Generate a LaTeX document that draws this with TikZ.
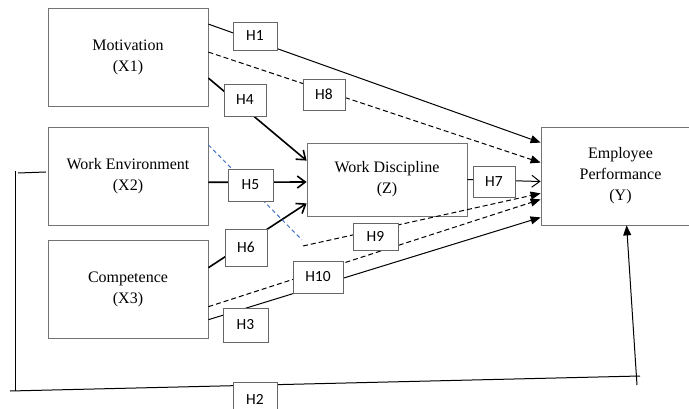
\documentclass[tikz,border=0pt]{standalone}
\usepackage{fontspec}
\setmainfont{Liberation Serif}
\newfontfamily\hypfont{Carlito}
\usepackage{tikz}
\usetikzlibrary{arrows.meta, positioning, calc}
\definecolor{linkblue}{RGB}{68,114,196}

\begin{document}
\begin{tikzpicture}[x=1pt, y=-1pt,
			block/.style={rectangle, draw=black!55, fill=white, line width=0.8pt,
				minimum width=160pt, minimum height=98pt, inner sep=0pt,
				align=center, font=\fontsize{16}{21}\selectfont},
			hyp/.style={rectangle, draw=black!60, fill=white, line width=0.8pt,
				minimum width=44pt, minimum height=31pt, inner sep=0pt,
				font=\hypfont\fontsize{15.5}{18}\selectfont},
			arr/.style={-{Triangle[length=10pt,width=8pt]}, line width=1pt},
			barb/.style={-{Straight Barb[length=8pt,width=12pt]}, line width=1.6pt},
			dsh/.style={arr, dash pattern=on 5pt off 3pt},
			]
			\useasboundingbox (0,0) rectangle (689,409);
			\clip (0,0) rectangle (689,409);
			
			% Blocks
			\node[block] (mot) at (128,57.5) {Motivation\\(X1)};
			\node[block, below=20pt of mot] (env) {Work Environment\\(X2)};
			\node[block, below=14pt of env] (comp) {Competence\\(X3)};
			\node[block, minimum height=73pt] (disc) at (387,179.5) {Work Discipline\\(Z)};
			\node[block, minimum width=159pt] (perf) at (620.5,176) {Employee\\Performance\\(Y)};
			
			% Arrows
			\draw[arr] ([yshift=-16pt]mot.north east) -- ([yshift=-16pt]perf.north west);
			\draw[dsh] ([yshift=-44pt]mot.north east) -- ([yshift=-36pt]perf.north west);
			\draw[barb] ([yshift=-70pt]mot.north east) -- ([yshift=-18pt]disc.north west);
			\draw[barb] ([yshift=-6pt]env.east) -- ([yshift=-2.5pt]disc.west);
			\draw[barb] ([yshift=-28pt]comp.north east) -- ([yshift=13pt]disc.south west);
			\draw[barb, line width=1pt] (disc.east) -- ([yshift=-2pt]disc.east -| perf.west);
			
			% H9 path, blue part first
			\coordinate (h9c) at (302,240);
			\draw[linkblue, line width=1pt, dash pattern=on 4pt off 3pt] ([yshift=-18pt]env.north east) -- (h9c);
			\draw[dsh] (303,246) -- ([yshift=32pt]perf.south west);
			\draw[dsh] ([yshift=-67pt]comp.north east) -- ([yshift=26pt]perf.south west);
			\draw[arr] ([yshift=-80pt]comp.north east) -- ([yshift=8pt]perf.south west);
			
			% H2 frame
			\coordinate (h2a) at (46,172);
			\coordinate (h2b) at (18,173);
			\coordinate (h2c) at (15,171);
			\coordinate (h2d) at (15,391);
			\coordinate (h2e) at (10,391);
			\coordinate (h2f) at (640,376);
			\coordinate (h2g) at (637,385);
			\draw[line width=1pt] (h2a) -- (h2b);
			\draw[line width=1pt] (h2c) -- (h2d);
			\draw[line width=1pt] (h2e) -- (h2f);
			\draw[arr] (h2g) -- ([xshift=86pt]perf.south west);
			
			% Hypothesis labels
			\node[hyp, minimum height=28pt] (h1) at (255,36) {H1};
			\node[hyp, minimum width=42pt] (h8) at (324,94.5) {H8};
			\node[hyp, minimum width=42pt, minimum height=32pt] (h4) at (245,100) {H4};
			\node[hyp, minimum width=45pt, minimum height=32pt] (h5) at (250.5,185) {H5};
			\node[hyp, minimum width=42pt, minimum height=37pt] (h6) at (246,247.5) {H6};
			\node[hyp, minimum width=42pt] (h7) at (494,181.5) {H7};
			\node[hyp, minimum width=45pt, minimum height=27pt] (h9) at (375.5,236.5) {H9};
			\node[hyp, minimum width=50pt, minimum height=32pt] (h10) at (318,277) {H10};
			\node[hyp, minimum width=45pt, minimum height=34pt] (h3) at (245.5,325) {H3};
			\node[hyp, minimum height=34pt] (h2) at (255,399) {H2};
		\end{tikzpicture}
\end{document}
